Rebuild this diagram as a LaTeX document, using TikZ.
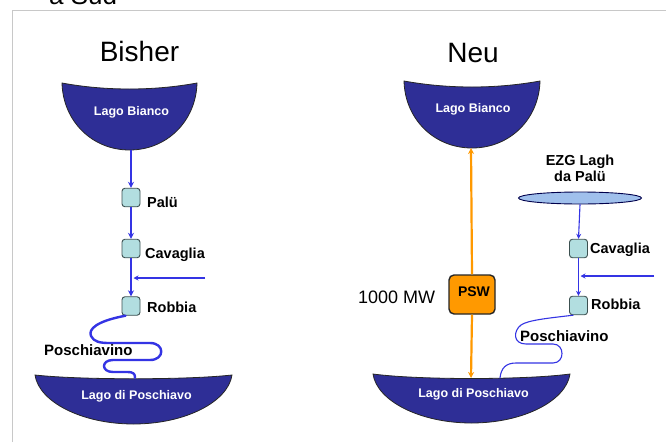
\documentclass[tikz,border=0pt]{standalone}
\usepackage{fontspec}
\setmainfont{Liberation Sans}
\usetikzlibrary{arrows.meta,shapes.geometric}
\definecolor{lakeblue}{RGB}{46,46,150}
\definecolor{flowblue}{RGB}{52,52,228}
\definecolor{boxcyan}{RGB}{178,222,224}
\definecolor{boxedge}{RGB}{60,80,80}
\definecolor{pswor}{RGB}{255,153,0}
\definecolor{ezgblue}{RGB}{160,192,236}
\definecolor{framegray}{RGB}{200,200,200}
\begin{document}
\begin{tikzpicture}[x=1pt,y=-1pt,
  lake/.style={fill=lakeblue,draw=black!85,line width=0.8pt},
  laketext/.style={text=white,font=\fontsize{12.5}{14}\selectfont\bfseries,anchor=base,inner sep=0pt},
  station/.style={draw=boxedge,fill=boxcyan,rounded corners=3pt,minimum width=18pt,minimum height=18.5pt,inner sep=0pt,line width=0.9pt},
  stlabel/.style={font=\fontsize{14.5}{16}\selectfont\bfseries,anchor=base west,inner sep=0pt},
  title/.style={font=\fontsize{28}{30}\selectfont,anchor=base,inner sep=0pt},
  mainflow/.style={draw=flowblue,line width=2pt,-{Stealth[length=6pt,width=6pt]}},
  thinflow/.style={draw=flowblue,line width=1.1pt,-{Stealth[length=5pt,width=5pt]}},
  river/.style={draw=flowblue,line width=2.4pt,line cap=round,line join=round},
  thinriver/.style={draw=flowblue,line width=1.1pt,line cap=round},
  pump/.style={draw=pswor,line width=2.2pt,-{Stealth[length=6pt,width=6pt]}}
]
\useasboundingbox (0,0) rectangle (666,442);
\fill[white] (0,0) rectangle (666,442);
% cut-off heading and frame
\begin{scope}
\clip (0,0) rectangle (666,442);
\node[font=\fontsize{26}{28}\selectfont,anchor=base west,inner sep=0pt] (head) at (49,4) {a Sud};
\end{scope}
\draw[framegray,line width=1pt] (12,442) -- (12,10) -- (666,10);

% titles
\node[title] (bisher) at (139.5,61) {Bisher};
\node[title] (neu) at (473,62) {Neu};

% ---------- left: Bisher ----------
\path[lake] (62,83) .. controls (105,91) and (154,91) .. (197,83)
  .. controls (196,121) and (167,150) .. (129.5,150)
  .. controls (92,150) and (63,121) .. (62,83) -- cycle;
\node[laketext] (lb1) at (131.5,115) {Lago Bianco};
\coordinate (lb1b) at (131,150);

\path[lake] (35,375) .. controls (80,380) and (187,380) .. (232,375)
  .. controls (228,402) and (185,424) .. (133.5,424)
  .. controls (82,424) and (39,402) .. (35,375) -- cycle;
\node[laketext] (lp1) at (136.5,399) {Lago di Poschiavo};
\coordinate (lp1t) at (135,378);

\node[station] (palu1) at (131,197.5) {};
\node[station] (cav1) at (131,248.5) {};
\node[station] (rob1) at (131,306) {};
\node[stlabel] (palu1l) at (147,207) {Palü};
\node[stlabel] (cav1l) at (145,258) {Cavaglia};
\node[stlabel] (rob1l) at (147,312) {Robbia};

\draw[mainflow] (lb1b) -- (palu1.north);
\draw[mainflow] (palu1.south) -- (cav1.north);
\draw[mainflow] (cav1.south) -- (rob1.north);
\coordinate (s1) at (205,278);
\coordinate (j1) at (133.5,278);
\draw[thinflow] (s1) -- (j1);

\draw[river] (rob1.south west) ++(4,0) coordinate (r1)
  (r1) .. controls (97,321) and (88,329) .. (91,336)
  .. controls (94,342) and (100,343) .. (110,343) -- (150,343)
  .. controls (165,343) and (165,360) .. (150,360) -- (113,360)
  .. controls (101,360) and (101,372) .. (113,372) -- (127,372)
  .. controls (134,372) and (135,374) .. (lp1t);
\node[font=\fontsize{15}{17}\selectfont\bfseries,anchor=base west,inner sep=0pt] (posc1) at (44,355) {Poschiavino};

% ---------- right: Neu ----------
\path[lake] (404,81) .. controls (448,89) and (496,89) .. (540,81)
  .. controls (539,119) and (510,148) .. (472,148)
  .. controls (434,148) and (405,119) .. (404,81) -- cycle;
\node[laketext] (lb2) at (473,112) {Lago Bianco};
\coordinate (lb2b) at (471,148);

\path[lake] (373,374) .. controls (418,380) and (525,380) .. (570,374)
  .. controls (566,401) and (523,423) .. (471.5,423)
  .. controls (420,423) and (377,401) .. (373,374) -- cycle;
\node[laketext] (lp2) at (473.5,397) {Lago di Poschiavo};
\coordinate (lp2t) at (471,378);
\coordinate (lp2r) at (500,378);

\node[draw=black!85,fill=pswor,rounded corners=5pt,line width=1.4pt,minimum width=46pt,minimum height=39pt,inner sep=0pt] (psw) at (472,294.5) {};
\node[font=\fontsize{14}{16}\selectfont\bfseries,anchor=base,inner sep=0pt] (pswl) at (474,296) {PSW};
\draw[pump] (psw.north) -- (lb2b);
\draw[pump] (psw.south) -- (lp2t);
\node[font=\fontsize{18}{20}\selectfont,anchor=base west,inner sep=0pt] (mw) at (358,303) {1000 MW};

\node[font=\fontsize{14.5}{16}\selectfont\bfseries,align=center,anchor=north,inner sep=0pt] (ezgl) at (580,155) {EZG Lagh\\da Palü};
\node[ellipse,draw=black!70!blue,fill=ezgblue,line width=0.9pt,minimum width=123pt,minimum height=12pt,inner sep=0pt] (ezg) at (580,198) {};

\node[station] (cav2) at (578.5,248.5) {};
\node[station] (rob2) at (578.5,305.5) {};
\node[stlabel] (cav2l) at (590,253) {Cavaglia};
\node[stlabel] (rob2l) at (591,309) {Robbia};

\draw[thinflow] (ezg.south) -- (cav2.north);
\draw[thinflow] (cav2.south) -- (rob2.north);
\coordinate (s2) at (654,276);
\coordinate (j2) at (580.5,276);
\draw[thinflow] (s2) -- (j2);

\draw[thinriver] (rob2.south west) ++(4,0) coordinate (r2)
  (r2) .. controls (550,318) and (528,320) .. (521,325)
  .. controls (513,331) and (513,344) .. (526,344) -- (553,344)
  .. controls (565,344) and (565,363) .. (553,363) -- (516,363)
  .. controls (506,363) and (501,368) .. (lp2r);
\node[font=\fontsize{15}{17}\selectfont\bfseries,anchor=base west,inner sep=0pt] (posc2) at (520,341) {Poschiavino};
\end{tikzpicture}
\end{document}
